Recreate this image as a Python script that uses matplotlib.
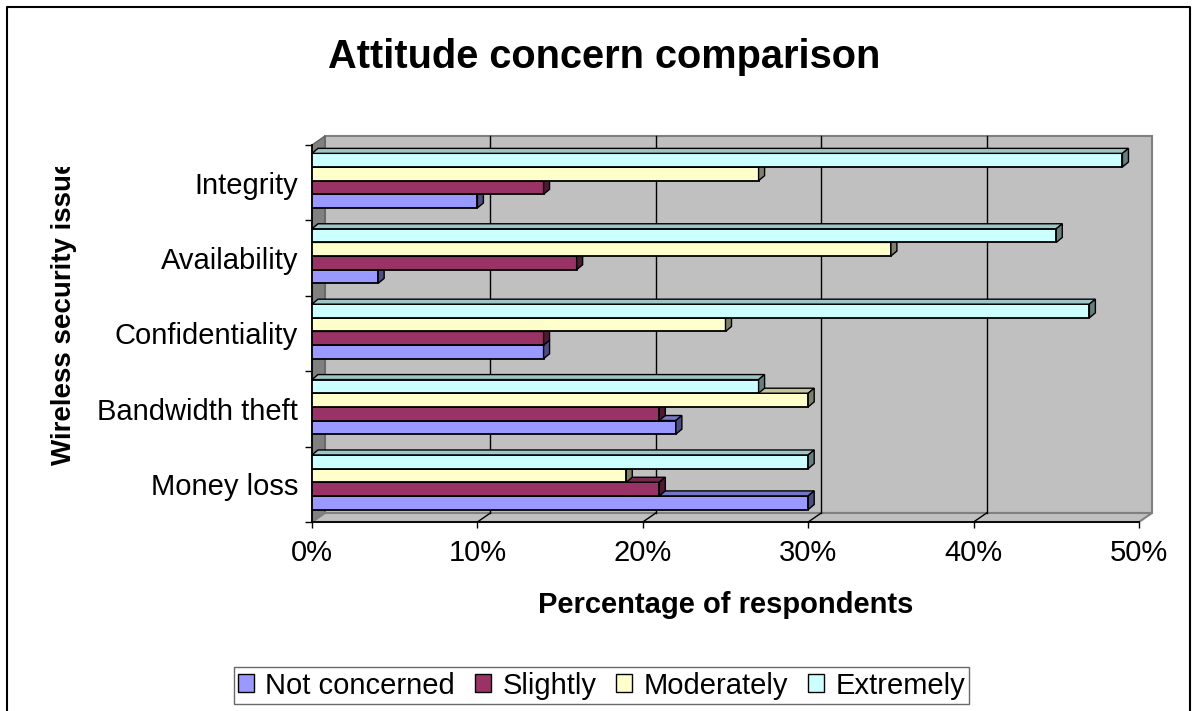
import matplotlib
matplotlib.use('Agg')
import matplotlib.pyplot as plt
from matplotlib.patches import Polygon, Patch
from matplotlib.lines import Line2D
from matplotlib.transforms import Bbox

plt.rcParams['font.family'] = ['Liberation Sans', 'DejaVu Sans']

# data (percent of respondents)
categories = ['Money loss', 'Bandwidth theft', 'Confidentiality', 'Availability', 'Integrity']
series = ['Not concerned', 'Slightly', 'Moderately', 'Extremely']
not_concerned = [30, 22, 14, 4, 10]
slightly = [21, 21, 14, 16, 14]
moderately = [19, 30, 25, 35, 27]
extremely = [30, 27, 47, 45, 49]
x_ticks = [0, 10, 20, 30, 40, 50]
x_labels = ['0%', '10%', '20%', '30%', '40%', '50%']

values = [not_concerned, slightly, moderately, extremely]
front_col = ['#9999FF', '#993366', '#FFFFCC', '#CCFFFF']
top_col = ['#7676C6', '#772850', '#C6C69E', '#9EC6C6']
side_col = ['#4D4D80', '#4D1A33', '#80806A', '#668080']

W, H = 1198, 711
fig = plt.figure(figsize=(W / 100, H / 100), dpi=100)
ax = fig.add_axes([312 / W, 1 - 522 / H, 827 / W, 377 / H])
ax.set_xlim(0, 50)
ax.set_ylim(0, 5)
ax.set_facecolor('none')

# pixel -> data helpers
px_x = 50 / 827
px_y = 5 / 377

# 3d walls
wdx, wdy = 13 * px_x, 9 * px_y
ax.add_patch(Polygon([(wdx, wdy), (50 + wdx, wdy), (50 + wdx, 5 + wdy), (wdx, 5 + wdy)],
                     closed=True, fc='#C0C0C0', ec='#808080', lw=1.5, clip_on=False, zorder=0))
ax.add_patch(Polygon([(0, 0), (0, 5), (wdx, 5 + wdy), (wdx, wdy)],
                     closed=True, fc='#808080', ec='#606060', lw=1, clip_on=False, zorder=0.1))
ax.add_patch(Polygon([(0, 0), (50, 0), (50 + wdx, wdy), (wdx, wdy)],
                     closed=True, fc='#C0C0C0', ec='#808080', lw=1.5, clip_on=False, zorder=0.1))
for t in x_ticks[1:-1]:
    ax.plot([t + wdx, t + wdx], [wdy, 5 + wdy], color='black', lw=1, zorder=0.5, clip_on=False)
    ax.plot([t, t + wdx], [0, wdy], color='black', lw=1, zorder=0.5, clip_on=False)

# bars with front, top and side faces
h = 0.181
start = 0.165
bdx, bdy = 6 * px_x, 5 * px_y
k = 0
for i in range(len(categories)):
    for j in range(len(series)):
        v = values[j][i]
        y0 = i + start + j * h
        z = 3 + k * 0.01
        ax.barh(y0, v, height=h, left=0, align='edge', color=front_col[j],
                edgecolor='black', lw=1.3, zorder=z)
        ax.add_patch(Polygon([(0, y0 + h), (v, y0 + h), (v + bdx, y0 + h + bdy), (bdx, y0 + h + bdy)],
                             closed=True, fc=top_col[j], ec='black', lw=1, zorder=z + 0.005))
        ax.add_patch(Polygon([(v, y0), (v, y0 + h), (v + bdx, y0 + h + bdy), (v + bdx, y0 + bdy)],
                             closed=True, fc=side_col[j], ec='black', lw=1, zorder=z + 0.005))
        k += 1

for s in ['top', 'right']:
    ax.spines[s].set_visible(False)
for s in ['left', 'bottom']:
    ax.spines[s].set_linewidth(1.3)
    ax.spines[s].set_zorder(1)

ax.set_xticks(x_ticks, x_labels)
ax.tick_params(axis='x', direction='out', length=4.5, width=1, pad=8, labelsize=21)
ax.set_yticks([i + 0.5 for i in range(len(categories))], categories)
ax.set_yticks(range(len(categories) + 1), minor=True)
ax.tick_params(axis='y', which='major', length=0, pad=10, labelsize=21)
ax.tick_params(axis='y', which='minor', direction='out', length=5, width=1)

fig.text(604 / W, 1 - 57 / H, 'Attitude concern comparison', ha='center', va='center',
         fontsize=28.6, fontweight='bold')
fig.text(725.5 / W, 1 - 605 / H, 'Percentage of respondents', ha='center', va='center',
         fontsize=21, fontweight='bold')
ylab = fig.text(64 / W, 1 - 465 / H, 'Wireless security issue', rotation=90,
                rotation_mode='anchor', ha='left', va='center', fontsize=20, fontweight='bold')
ylab.set_clip_box(Bbox([[0, 0], [W, H - 167]]))

handles = [Patch(fc=c, ec='black', lw=1) for c in front_col]
leg = fig.legend(handles, series, loc='center', bbox_to_anchor=(601.5 / W, 1 - 685.5 / H),
                 ncol=4, fontsize=21, frameon=True, fancybox=False, edgecolor='#444444',
                 borderpad=0.15, handlelength=0.55, handleheight=0.55, handletextpad=0.38,
                 columnspacing=0.69, borderaxespad=0)
leg.get_frame().set_linewidth(1)

fig.add_artist(Line2D([7 / W, 7 / W, 1190 / W, 1190 / W], [0, 1 - 7 / H, 1 - 7 / H, 0],
                      color='black', lw=1.5))

fig.savefig('out.png', dpi=100)
